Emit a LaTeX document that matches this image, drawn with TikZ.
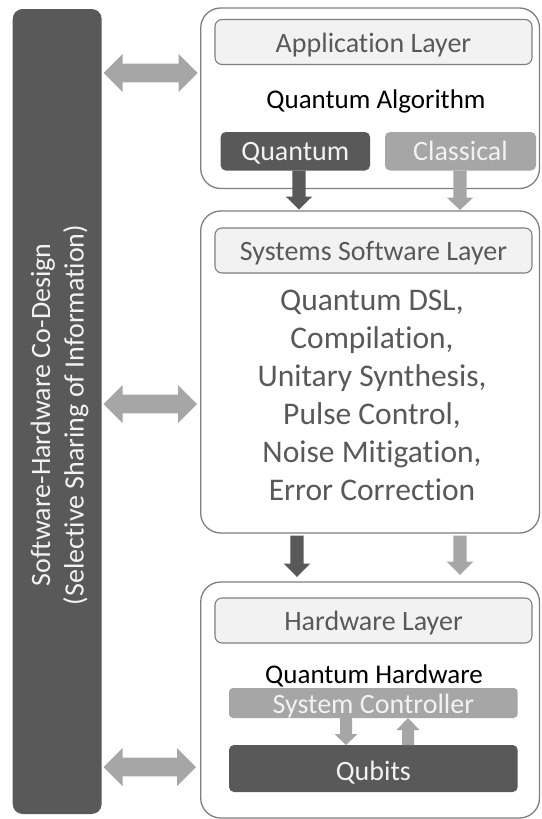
\documentclass[tikz,border=0pt]{standalone}
\usepackage{fontspec}
\setmainfont{Carlito}[Ligatures=NoCommon]
\usetikzlibrary{calc}

\definecolor{cdark}{HTML}{595959}
\definecolor{clight}{HTML}{A6A6A6}
\definecolor{cborder}{HTML}{7F7F7F}
\definecolor{chead}{HTML}{F2F2F2}
\definecolor{cpale}{HTML}{F2F2F2}

% vertical block arrow: style, start, tip, shaft half-width, head half-width, head length
\newcommand{\vblock}[6]{%
  \path ($(#3)!#6!(#2)$) coordinate (vb-base);
  \fill[#1] let \p1=(#2), \p2=(#3), \p3=(vb-base) in
    (\x1-#4,\y1) -- (\x1-#4,\y3) -- (\x1-#5,\y3) -- (\x2,\y2) --
    (\x1+#5,\y3) -- (\x1+#4,\y3) -- (\x1+#4,\y1) -- cycle;}

% horizontal double block arrow: style, left tip, right tip, shaft half-width, head half-width, head length
\newcommand{\hdblock}[6]{%
  \fill[#1] let \p1=(#2), \p2=(#3) in
    (\x1,\y1) -- (\x1+#6,\y1+#5) -- (\x1+#6,\y1+#4) -- (\x2-#6,\y1+#4) --
    (\x2-#6,\y1+#5) -- (\x2,\y1) -- (\x2-#6,\y1-#5) -- (\x2-#6,\y1-#4) --
    (\x1+#6,\y1-#4) -- (\x1+#6,\y1-#5) -- cycle;}

\begin{document}
\begin{tikzpicture}[x=1pt,y=-1pt,
  every node/.style={inner sep=0pt},
  layerbox/.style={draw=cborder, line width=1.3pt, fill=white, rounded corners=20pt,
    minimum width=338.8pt},
  hdrbox/.style={draw=cborder, line width=1.1pt, fill=chead, rounded corners=7pt,
    minimum width=317pt, minimum height=45pt, text height=20pt, text depth=0pt,
    text=cdark, font=\fontsize{28}{34}\selectfont},
  tagbox/.style={rounded corners=5pt, minimum height=38.5pt, text height=17.5pt,
    text depth=0pt, text=cpale, font=\fontsize{28}{34}\selectfont},
  bodytext/.style={anchor=base, text=cdark, font=\fontsize{31.5}{38}\selectfont},
  titletext/.style={anchor=base, text=black, font=\fontsize{27}{33}\selectfont},
  bartext/.style={anchor=base, rotate=90, text=cpale, font=\fontsize{28}{34}\selectfont},
  darkfill/.style={fill=cdark},
  lightfill/.style={fill=clight}]

\useasboundingbox (0,0) rectangle (541,819);

% co-design bar
\node[fill=cdark, rounded corners=10pt, minimum width=89pt, minimum height=805pt]
  (bar) at (57.2,411.5) {};
\node[bartext] (bartxt1) at (50,415) {Software-Hardware Co-Design};
\node[bartext] (bartxt2) at (83.5,415) {(Selective Sharing of Information)};

% application layer
\node[layerbox, minimum height=180.5pt] (appbox) at (370.1,98.25) {};
\node[hdrbox] (apphdr) at (373.5,42) {Application Layer};
\node[titletext] (qalg) at (376,108) {Quantum Algorithm};
\node[tagbox, fill=cdark, minimum width=149.3pt] (quant) at (295.35,151.25) {Quantum};
\node[tagbox, fill=clight, minimum width=151pt] (class) at (460.5,151.25) {Classical};

% systems software layer
\node[layerbox, minimum height=322pt] (sysbox) at (370.1,372) {};
\node[hdrbox] (syshdr) at (373.5,250.5) {Systems Software Layer};
\foreach \t [count=\i] in {Quantum DSL{,}, Compilation{,}, Unitary Synthesis{,},
    Pulse Control{,}, Noise Mitigation{,}, Error Correction}
  \node[bodytext] (sw\i) at (372,{310+38*(\i-1)}) {\t};

% hardware layer
\node[layerbox, minimum height=236pt] (hwbox) at (370.1,700) {};
\node[hdrbox] (hwhdr) at (373.5,620.5) {Hardware Layer};
\node[titletext] (qhw) at (374,683) {Quantum Hardware};
\node[fill=clight, rounded corners=4pt, minimum width=288.7pt, minimum height=30pt,
  text height=20pt, text depth=0pt, text=cpale, font=\fontsize{28}{34}\selectfont]
  (ctrl) at (373.35,703) {System Controller};
\node[fill=cdark, rounded corners=5pt, minimum width=288.7pt, minimum height=47pt,
  text height=23pt, text depth=0pt, text=cpale, font=\fontsize{28}{34}\selectfont]
  (qubits) at (373.35,768.5) {Qubits};

% arrow end points
\coordinate (qa1) at (299,170.5);   \coordinate (qa2) at (299,209.5);
\coordinate (ca1) at (460,170.5);   \coordinate (ca2) at (460,210);
\coordinate (qb1) at (297,535.5);   \coordinate (qb2) at (297,577);
\coordinate (cb1) at (460,535.5);   \coordinate (cb2) at (460,575);
\coordinate (dn1) at (346,718);     \coordinate (dn2) at (346,745);
\coordinate (up1) at (408,745);     \coordinate (up2) at (408,718);
\coordinate (lk1a) at (103.5,73);   \coordinate (lk1b) at (197.5,73);
\coordinate (lk2a) at (103.5,404);  \coordinate (lk2b) at (197,404);
\coordinate (lk3a) at (103.5,767);  \coordinate (lk3b) at (196,767);

% flow between layers
\vblock{darkfill}{qa1}{qa2}{6.7pt}{13.3pt}{13pt}
\vblock{lightfill}{ca1}{ca2}{6.7pt}{13.3pt}{12.5pt}
\vblock{darkfill}{qb1}{qb2}{6.7pt}{13.3pt}{13.5pt}
\vblock{lightfill}{cb1}{cb2}{6.7pt}{13.3pt}{13.5pt}

% controller <-> qubits
\vblock{lightfill}{dn1}{dn2}{6pt}{11.5pt}{11pt}
\vblock{lightfill}{up1}{up2}{6pt}{11.5pt}{12pt}

% links from the co-design bar
\hdblock{lightfill}{lk1a}{lk1b}{9.3pt}{19pt}{19pt}
\hdblock{lightfill}{lk2a}{lk2b}{9.3pt}{19pt}{19pt}
\hdblock{lightfill}{lk3a}{lk3b}{9.3pt}{19pt}{19pt}

\end{tikzpicture}
\end{document}
